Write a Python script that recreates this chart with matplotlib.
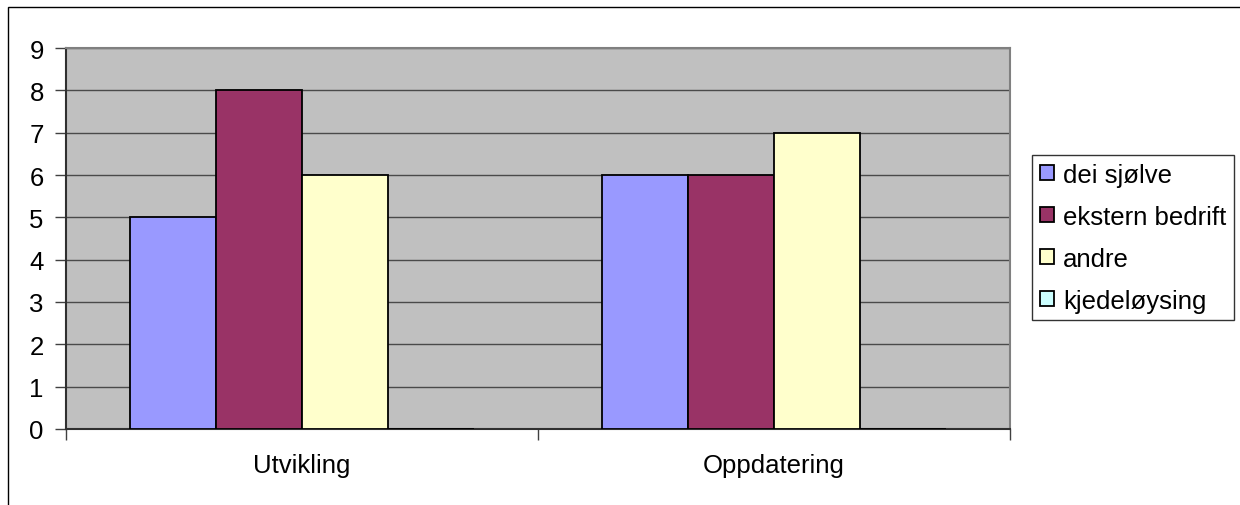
import matplotlib
matplotlib.use("Agg")
import matplotlib.pyplot as plt
from matplotlib.patches import Rectangle
import numpy as np

plt.rcParams['font.family'] = ['Liberation Sans', 'DejaVu Sans']

categories = ["Utvikling", "Oppdatering"]
series_names = ["dei sjølve", "ekstern bedrift", "andre", "kjedeløysing"]
series_values = [
    [5, 6],
    [8, 6],
    [6, 7],
    [0, 0],
]
series_colors = ["#9999FF", "#993366", "#FFFFCC", "#CCFFFF"]
y_ticks = list(range(0, 10))

FS = 18.5
W, H = 1240, 506
fig = plt.figure(figsize=(W / 100, H / 100), dpi=100)

# outer chart frame
fig.patches.append(Rectangle((8 / W, -0.1), 1.2, (H - 8) / H + 0.1,
                             transform=fig.transFigure, fill=False,
                             edgecolor="black", linewidth=1.0))

ax = fig.add_axes([66 / W, (H - 430) / H, 944 / W, 381 / H])
ax.set_facecolor("#C0C0C0")

n = len(series_names)
bar_w = 86 / 472
x = np.arange(len(categories))
offsets = (np.arange(n) - (n - 1) / 2) * bar_w
handles = []
for i, (name, vals, col) in enumerate(zip(series_names, series_values, series_colors)):
    b = ax.bar(x + offsets[i], vals, width=bar_w, color=col, edgecolor="black",
               linewidth=1.3, label=name, zorder=3)
    handles.append(b)

ax.set_xlim(-0.5, len(categories) - 0.5)
ax.set_ylim(0, 9)
ax.set_yticks(y_ticks)
ax.set_yticklabels([str(t) for t in y_ticks], fontsize=FS)
ax.yaxis.grid(True, color="#4a4a4a", linewidth=1.0, zorder=1)
ax.set_axisbelow(True)

# category labels centred, ticks at category boundaries
ax.set_xticks(np.arange(-0.5, len(categories), 1.0))
ax.set_xticklabels([""] * (len(categories) + 1))
ax.set_xticks(x, minor=True)
ax.set_xticklabels(categories, minor=True, fontsize=FS)
ax.tick_params(axis="x", which="minor", length=0, pad=17)
ax.tick_params(axis="x", which="major", length=8, width=1.0, color="#404040")
ax.tick_params(axis="y", length=8, width=1.0, color="#404040", pad=8)

for s in ["top", "right"]:
    ax.spines[s].set_color("#808080")
    ax.spines[s].set_linewidth(1.5)
for s in ["left", "bottom"]:
    ax.spines[s].set_color("#303030")
    ax.spines[s].set_linewidth(1.5)

leg = fig.legend(handles=handles, labels=series_names, loc="upper left",
                 bbox_to_anchor=(1032 / W, 1 - 156 / H), fontsize=FS,
                 frameon=True, fancybox=False, edgecolor="black",
                 handlelength=0.55, handleheight=0.55, handletextpad=0.35,
                 borderpad=0.3, labelspacing=0.7, borderaxespad=0)
leg.get_frame().set_linewidth(1.0)

fig.savefig("out.png", dpi=100)
